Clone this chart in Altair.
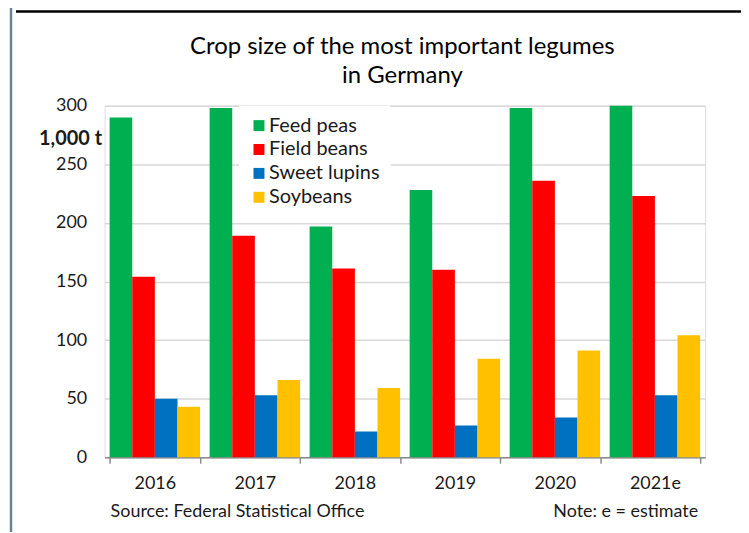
import altair as alt
import pandas as pd

years = ["2016", "2017", "2018", "2019", "2020", "2021e"]
crops = ["Feed peas", "Field beans", "Sweet lupins", "Soybeans"]
colors = ["#00B050", "#FF0000", "#0070C0", "#FFC000"]
feed_peas = [290, 298, 197, 228, 298, 300]
field_beans = [154, 189, 161, 160, 236, 223]
sweet_lupins = [50, 53, 22, 27, 34, 53]
soybeans = [43, 66, 59, 84, 91, 104]
y_ticks = [0, 50, 100, 150, 200, 250, 300]

title_line1 = "Crop size of the most important legumes"
title_line2 = "in Germany"
unit_label = "1,000 t"
source_text = "Source: Federal Statistical Office"
note_text = "Note: e = estimate"

FONT = "Lato"

series = {"Feed peas": feed_peas, "Field beans": field_beans,
          "Sweet lupins": sweet_lupins, "Soybeans": soybeans}
rows = []
for c in crops:
    for y, v in zip(years, series[c]):
        rows.append({"year": y, "crop": c, "value": v})
df = pd.DataFrame(rows)

bars = alt.Chart(df).mark_bar().encode(
    x=alt.X("year:N", sort=years,
            scale=alt.Scale(paddingInner=0.095, paddingOuter=0.05),
            axis=alt.Axis(title=None, labelAngle=0, tickBand="extent",
                          domainColor="#8c8c8c", domainWidth=1.5,
                          tickColor="#8c8c8c", tickWidth=1.5, tickSize=6,
                          labelFontSize=18, labelPadding=11, labelColor="#1a1a1a",
                          labelFont=FONT, grid=False)),
    xOffset=alt.XOffset("crop:N", sort=crops,
                        scale=alt.Scale(paddingInner=0, paddingOuter=0)),
    y=alt.Y("value:Q", scale=alt.Scale(domain=[0, 300], nice=False),
            axis=alt.Axis(values=y_ticks, title=unit_label, titleAngle=0,
                          titleAlign="right", titleBaseline="middle",
                          titleX=-3, titleY=33, titleFontSize=20,
                          titleFontWeight="bold", titleFont=FONT,
                          titleColor="#1a1a1a",
                          domain=False, ticks=False, tickSize=0,
                          labelPadding=18, labelFontSize=18, labelFont=FONT,
                          labelColor="#1a1a1a",
                          grid=True, gridColor="#d9d9d9", gridWidth=1.5)),
    color=alt.Color("crop:N", sort=crops,
                    scale=alt.Scale(domain=crops, range=colors),
                    legend=alt.Legend(title=None, orient="none", legendX=135,
                                      legendY=0, fillColor="white",
                                      symbolType="square", symbolSize=121,
                                      symbolStrokeWidth=0, labelOffset=0,
                                      labelFontSize=20, labelFont=FONT,
                                      labelColor="#1a1a1a", rowPadding=4,
                                      padding=10)),
)

one = pd.DataFrame({"k": [0]})

left_line = alt.Chart(one).mark_rule(
    color="#6a8299", strokeWidth=2.5).encode(
    x=alt.value(-94), y=alt.value(-105), y2=alt.value(428))

top_line = alt.Chart(one).mark_rule(
    color="#000000", strokeWidth=2.5).encode(
    y=alt.value(-94.5), x=alt.value(-89), x2=alt.value(650))

title1 = alt.Chart(pd.DataFrame({"t": [title_line1]})).mark_text(
    align="center", baseline="middle", font=FONT, fontSize=24, color="#000000").encode(
    text="t:N", x=alt.value(299), y=alt.value(-59))

title2 = alt.Chart(pd.DataFrame({"t": [title_line2]})).mark_text(
    align="center", baseline="middle", font=FONT, fontSize=24, color="#000000").encode(
    text="t:N", x=alt.value(299), y=alt.value(-30))

source = alt.Chart(pd.DataFrame({"t": [source_text]})).mark_text(
    align="left", baseline="middle", font=FONT, fontSize=18, color="#1a1a1a").encode(
    text="t:N", x=alt.value(6), y=alt.value(408))

note = alt.Chart(pd.DataFrame({"t": [note_text]})).mark_text(
    align="right", baseline="middle", font=FONT, fontSize=18, color="#1a1a1a").encode(
    text="t:N", x=alt.value(596), y=alt.value(408))

chart = alt.layer(bars, left_line, top_line, title1, title2, source, note).properties(
    width=603, height=353,
    padding={"left": 97, "top": 97, "right": 36, "bottom": 75},
    autosize=alt.AutoSizeParams(type="none"),
).configure_view(stroke=None).configure(background="white")

chart.save("out.html", embed_options={"renderer": "svg", "actions": False})
